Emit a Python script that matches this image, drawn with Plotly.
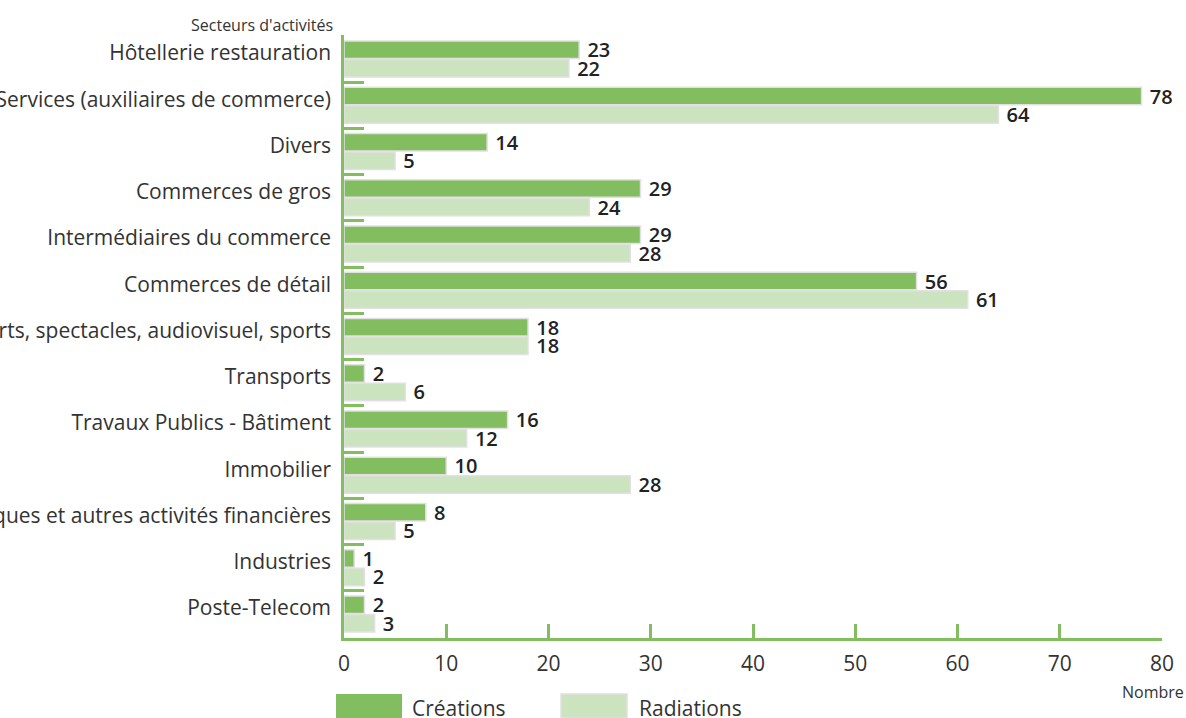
import plotly.graph_objects as go

categories = [
    "Hôtellerie restauration",
    "Services (auxiliaires de commerce)",
    "Divers",
    "Commerces de gros",
    "Intermédiaires du commerce",
    "Commerces de détail",
    "Arts, spectacles, audiovisuel, sports",
    "Transports",
    "Travaux Publics - Bâtiment",
    "Immobilier",
    "Banques et autres activités financières",
    "Industries",
    "Poste-Telecom",
]
creations = [23, 78, 14, 29, 29, 56, 18, 2, 16, 10, 8, 1, 2]
radiations = [22, 64, 5, 24, 28, 61, 18, 6, 12, 28, 5, 2, 3]
x_ticks = [0, 10, 20, 30, 40, 50, 60, 70, 80]

GREEN = "#82be5f"
LIGHT = "#cbe3be"
EDGE = "#e4dfe4"
FONT = "Open Sans"

PW, PH = 818, 603
L, T = 344, 35

fig = go.Figure()
for name, vals, color in [("Créations", creations, GREEN), ("Radiations", radiations, LIGHT)]:
    fig.add_trace(go.Bar(
        y=categories, x=vals, orientation="h", name=name,
        marker=dict(color=color, line=dict(color=EDGE, width=1.5)),
        text=vals, texttemplate=" %{text}",
        textposition="outside", cliponaxis=False, constraintext="none",
        textfont=dict(family=FONT, size=20, weight=600, color="#222"),
    ))

fig.update_layout(
    width=1186, height=718,
    margin=dict(l=L, r=1186 - L - PW, t=T, b=718 - T - PH, autoexpand=False),
    paper_bgcolor="white", plot_bgcolor="white",
    barmode="group", bargap=0.2, bargroupgap=0.06,
    showlegend=False,
    font=dict(family=FONT, color="#333"),
)
fig.update_xaxes(
    range=[0, 80], tickvals=x_ticks, ticktext=[str(v) for v in x_ticks],
    showgrid=False, zeroline=False,
    showline=True, linecolor=GREEN, linewidth=2.5,
    ticks="inside", tickcolor=GREEN, tickwidth=2.5, ticklen=14,
    tickfont=dict(size=21, color="#333"), ticklabelstandoff=5,
    automargin=False,
)
fig.update_yaxes(
    categoryorder="array", categoryarray=categories,
    autorange=False, range=[12.52, -0.52],
    showgrid=False, zeroline=False,
    showline=True, linecolor=GREEN, linewidth=2.5,
    ticks="inside", tickson="boundaries", tickcolor=GREEN, tickwidth=2.5, ticklen=20,
    tickfont=dict(size=21, color="#333"), ticklabelstandoff=6, ticklabelshift=6,
    automargin=False,
)

# Legend (custom wide swatches below the axis)
fig.add_shape(type="rect", xref="paper", yref="paper",
              x0=-8 / PW, x1=58 / PW, y0=-80 / PH, y1=-56 / PH,
              fillcolor=GREEN, line=dict(width=0))
fig.add_shape(type="rect", xref="paper", yref="paper",
              x0=217 / PW, x1=283 / PW, y0=-80 / PH, y1=-56 / PH,
              fillcolor=LIGHT, line=dict(color=EDGE, width=1.5))
fig.add_annotation(text="Créations", xref="paper", yref="paper",
                   x=66 / PW, y=-70 / PH, xanchor="left", yanchor="middle",
                   showarrow=False, font=dict(size=21, color="#333"))
fig.add_annotation(text="Radiations", xref="paper", yref="paper",
                   x=293 / PW, y=-70 / PH, xanchor="left", yanchor="middle",
                   showarrow=False, font=dict(size=21, color="#333"))
fig.add_annotation(text="Secteurs d'activités", xref="paper", yref="paper",
                   x=-9 / PW, y=1 + 10 / PH, xanchor="right", yanchor="middle",
                   showarrow=False, font=dict(size=16, color="#333"))
fig.add_annotation(text="Nombre", xref="paper", yref="paper",
                   x=1 + 24 / PW, y=-54 / PH, xanchor="right", yanchor="middle",
                   showarrow=False, font=dict(size=16, color="#333"))

fig.write_html(
    "out.html",
    config={"displayModeBar": False},
    post_script="document.body.style.margin='0';document.body.style.overflow='hidden';",
)
